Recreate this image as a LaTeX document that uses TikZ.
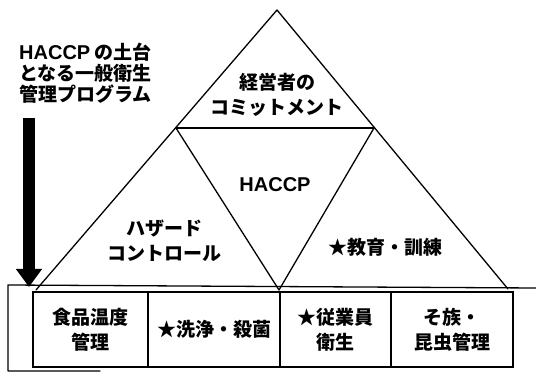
\documentclass[tikz,border=0pt]{standalone}
\usepackage{fontspec}
\setmainfont{Noto Sans CJK JP}
\newfontfamily\latinsans{Liberation Sans}
\usetikzlibrary{arrows.meta}
\begin{document}
\begin{tikzpicture}[x=1pt,y=-1pt,
  lbl/.style={font=\fontsize{19}{25}\selectfont\bfseries, align=center, inner sep=0pt},
  edge/.style={line width=1.3pt, line cap=round, line join=round},
  cell/.style={draw, line width=1.3pt, font=\fontsize{19}{25}\selectfont\bfseries, align=center,
    inner sep=0pt, minimum height=75pt},
  bigarrow/.style={line width=12pt, -{Triangle[width=25pt,length=18pt]}}]
\useasboundingbox (0,0) rectangle (536,374);

% pyramid vertices
\coordinate (apex) at (277,10);
\coordinate (bl) at (36,290);
\coordinate (br) at (508,289);
\coordinate (bm) at (279,290);
\coordinate (ml) at (176,128);
\coordinate (mr) at (374,128);

\draw[edge] (bl) -- (apex) -- (br);
\draw[edge] (ml) -- (mr);
\draw[edge] (ml) -- (bm) -- (mr);

% base frame
\coordinate (f1) at (536,288);
\coordinate (f2) at (8,285);
\coordinate (f3) at (8,371);
\coordinate (f4) at (100,371);
\draw[edge] (f1) -- (f2) -- (f3) -- (f4);

% cells
\node[cell, minimum width=115pt] (c1) at (90.5,329.5) {食品温度\\管理};
\node[cell, minimum width=132pt] (c2) at (214,329.5) {★洗浄・殺菌};
\node[cell, minimum width=111pt] (c3) at (335.5,329.5) {★従業員\\衛生};
\node[cell, minimum width=122pt] (c4) at (452,329.5) {そ族・\\昆虫管理};

% pyramid labels
\node[lbl] (mgmt) at (277,95) {経営者の\\コミットメント};
\node[lbl] (haccp) at (275,185) {{\latinsans\fontsize{20}{25}\selectfont HACCP}};
\node[lbl] (hazard) at (164,241) {ハザード\\コントロール};
\node[lbl] (edu) at (385,247) {★教育・訓練};

% side note and arrow
\node[lbl, align=left, anchor=west, font=\fontsize{19}{21}\selectfont\bfseries] (note) at (19,73)
  {{\latinsans\fontsize{20}{21}\selectfont HACCP} の土台\\となる一般衛生\\管理プログラム};
\coordinate (arrS) at (29,118);
\coordinate (arrE) at (29,287);
\draw[bigarrow] (arrS) -- (arrE);
\end{tikzpicture}
\end{document}
